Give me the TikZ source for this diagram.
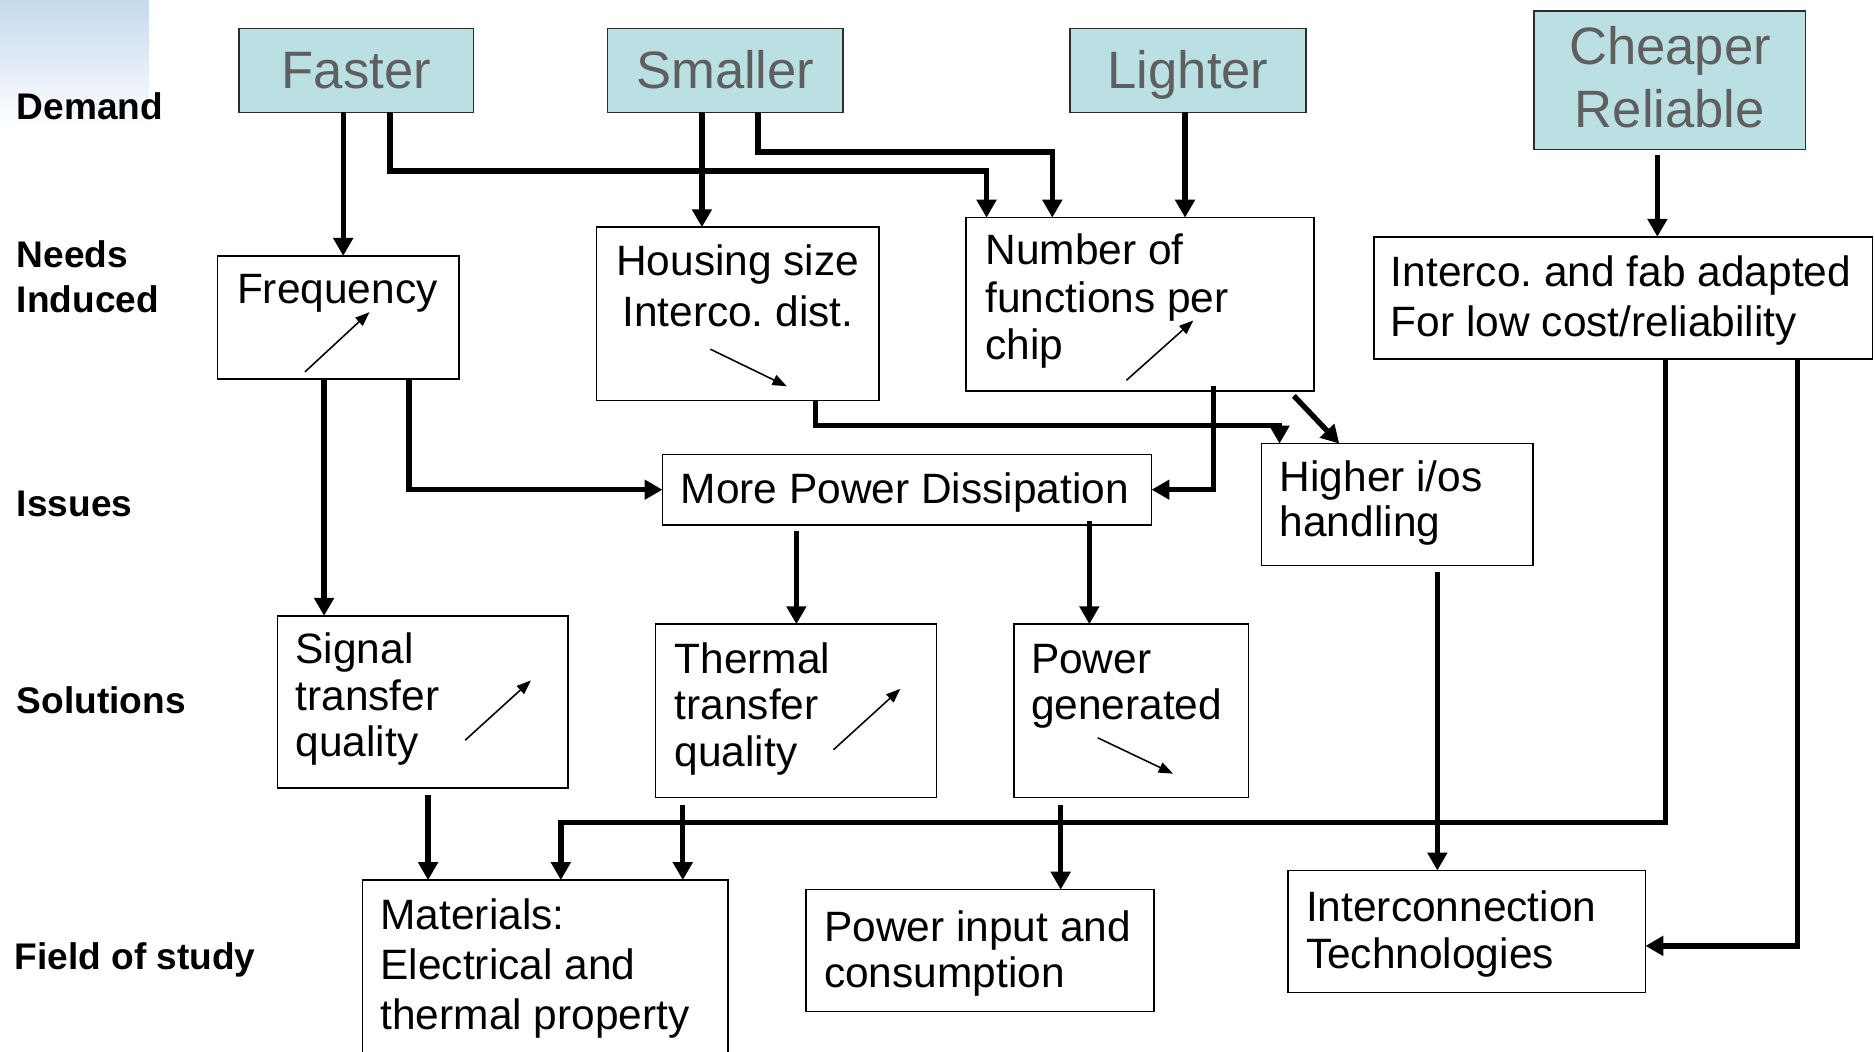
\documentclass[tikz,border=0pt]{standalone}
\usepackage{fontspec}
\setmainfont{Liberation Sans}
\usetikzlibrary{arrows.meta,calc}
\definecolor{demfill}{RGB}{187,224,227}
\definecolor{demtext}{RGB}{95,95,95}
\definecolor{demline}{RGB}{45,45,45}
\definecolor{gradtop}{RGB}{197,217,237}
\begin{document}
\frenchspacing
\begin{tikzpicture}[x=1pt,y=-1pt,
 dembox/.style={draw=demline, fill=demfill, line width=1.3pt, anchor=north west, inner sep=0pt, outer sep=0pt},
 wbox/.style={draw=black, fill=white, line width=1.3pt, anchor=north west, inner sep=0pt, outer sep=0pt},
 demtxt/.style={text=demtext, font=\fontsize{44}{53}\selectfont, align=center, anchor=base, inner sep=0pt},
 txt/.style={font=\fontsize{35.5}{40}\selectfont, align=left, anchor=base west, inner sep=0pt},
 lbl/.style={font=\bfseries\fontsize{31}{37}\selectfont, align=left, anchor=base west, inner sep=0pt},
 conn/.style={line width=4.5pt, -{Triangle[width=16pt,length=15pt]}},
 tinyarr/.style={line width=1.3pt, -{Triangle[width=9pt,length=12pt]}},
]
\useasboundingbox (0,0) rectangle (1568,879);
\clip (0,0) rectangle (1568,879);
\fill[white] (0,0) rectangle (1568,879);
\shade[top color=gradtop, bottom color=white] (0,0) rectangle (124,106);

% row labels (multi-line nodes are anchored at their last baseline)
\node[lbl] (ldemand) at (14,100) {Demand};
\node[lbl] (lneeds) at (14,261) {Needs\\Induced};
\node[lbl] (lissues) at (14,432) {Issues};
\node[lbl] (lsol) at (14,597) {Solutions};
\node[lbl] (lfield) at (12,811) {Field of study};

% demand boxes
\node[dembox, minimum width=196pt, minimum height=70pt] (faster) at (200,24) {};
\node[dembox, minimum width=197pt, minimum height=70pt] (smaller) at (508,24) {};
\node[dembox, minimum width=197pt, minimum height=70pt] (lighter) at (895,24) {};
\node[dembox, minimum width=227pt, minimum height=116pt] (cheaper) at (1283,9) {};
\node[demtxt] (fastert) at (298,74) {Faster};
\node[demtxt] (smallert) at (606.5,74) {Smaller};
\node[demtxt] (lightert) at (993.5,74) {Lighter};
\node[demtxt] (cheapert) at (1396.5,107) {Cheaper\\Reliable};

% needs induced
\node[wbox, minimum width=202pt, minimum height=103pt] (freq) at (182,214) {};
\node[wbox, minimum width=236pt, minimum height=145pt] (housing) at (499,190) {};
\node[wbox, minimum width=291pt, minimum height=145pt] (number) at (808,182) {};
\node[wbox, minimum width=417pt, minimum height=102pt] (fab) at (1149,198) {};
\node[txt] (freqt) at (198,254) {Frequency};
\node[txt, align=center, anchor=base, font=\fontsize{35.5}{43}\selectfont] (housingt) at (617,273) {Housing size\\Interco. dist.};
\node[txt] (numbert) at (824,301) {Number of\\functions per\\chip};
\node[txt, font=\fontsize{35.5}{41}\selectfont] (fabt) at (1163,281) {Interco. and fab adapted\\For low cost/reliability};

% issues
\node[wbox, minimum width=409pt, minimum height=59pt] (power) at (554,380) {};
\node[wbox, minimum width=227pt, minimum height=102pt] (higher) at (1055,371) {};
\node[txt] (powert) at (569,421) {More Power Dissipation};
\node[txt, font=\fontsize{35.5}{38}\selectfont] (highert) at (1070,449) {Higher i/os\\handling};

% solutions
\node[wbox, minimum width=243pt, minimum height=144pt] (signal) at (232,515) {};
\node[wbox, minimum width=235pt, minimum height=145pt] (thermal) at (548,522) {};
\node[wbox, minimum width=196pt, minimum height=145pt] (pgen) at (848,522) {};
\node[txt, font=\fontsize{35.5}{39}\selectfont] (signalt) at (247,633) {Signal\\transfer\\quality};
\node[txt, font=\fontsize{35.5}{39}\selectfont] (thermalt) at (564,641) {Thermal\\transfer\\quality};
\node[txt, font=\fontsize{35.5}{39}\selectfont] (pgent) at (862,602) {Power\\generated};

% field of study
\node[wbox, minimum width=306pt, minimum height=170pt] (materials) at (303,736) {};
\node[wbox, minimum width=291pt, minimum height=102pt] (pin) at (674,744) {};
\node[wbox, minimum width=299pt, minimum height=102pt] (intercon) at (1077,728) {};
\node[txt, font=\fontsize{35.5}{42}\selectfont] (materialst) at (318,861) {Materials:\\Electrical and\\thermal property};
\node[txt, font=\fontsize{35.5}{39}\selectfont] (pint) at (689,826) {Power input and\\consumption};
\node[txt, font=\fontsize{35.5}{39}\selectfont] (intercont) at (1092,810) {Interconnection\\Technologies};

% small trend arrows
\draw[tinyarr] (255,311) -- (309,261);
\draw[tinyarr] (594,292) -- (658,323);
\draw[tinyarr] (942,318) -- (998,268);
\draw[tinyarr] (389,619) -- (444,569);
\draw[tinyarr] (697,627) -- (753,576);
\draw[tinyarr] (918,617) -- (981,647);

% connectors
\draw[conn] (287,0 |- faster.south) -- (287,0 |- freq.north);
\draw[conn] (326,0 |- faster.south) |- (825,143) -- (825,0 |- number.north);
\draw[conn] (587,0 |- smaller.south) -- (587,0 |- housing.north);
\draw[conn] (634,0 |- smaller.south) |- (880,127) -- (880,0 |- number.north);
\draw[conn] (991,0 |- lighter.south) -- (991,0 |- number.north);
\draw[conn] ($(1386,0 |- cheaper.south)+(0,5)$) -- (1386,0 |- fab.north);
\draw[conn] (682,0 |- housing.south) |- (1070,356) -- (1070,0 |- higher.north);
\draw[conn] ($(1082,0 |- number.south)+(0,4)$) -- (1120,0 |- higher.north);
\draw[conn] ($(1015,0 |- number.south)+(0,-4)$) |- (power.east);
\draw[conn] (342,0 |- freq.south) |- (power.west);
\draw[conn] (271,0 |- freq.south) -- (271,0 |- signal.north);
\draw[conn] ($(666,0 |- power.south)+(0,5)$) -- (666,0 |- thermal.north);
\draw[conn] ($(911,0 |- power.south)+(0,-3)$) -- (911,0 |- pgen.north);
\draw[conn] ($(1202,0 |- higher.south)+(0,5)$) -- (1202,0 |- intercon.north);
\draw[conn] ($(358,0 |- signal.south)+(0,6)$) -- (358,0 |- materials.north);
\draw[conn] ($(571,0 |- thermal.south)+(0,6)$) -- (571,0 |- materials.north);
\draw[conn] ($(887,0 |- pgen.south)+(0,6)$) -- (887,0 |- pin.north);
\draw[conn] (1393,0 |- fab.south) |- (469,688) -- (469,0 |- materials.north);
\draw[conn] (1503,0 |- fab.south) |- (intercon.east |- 0,791);
\end{tikzpicture}
\end{document}
